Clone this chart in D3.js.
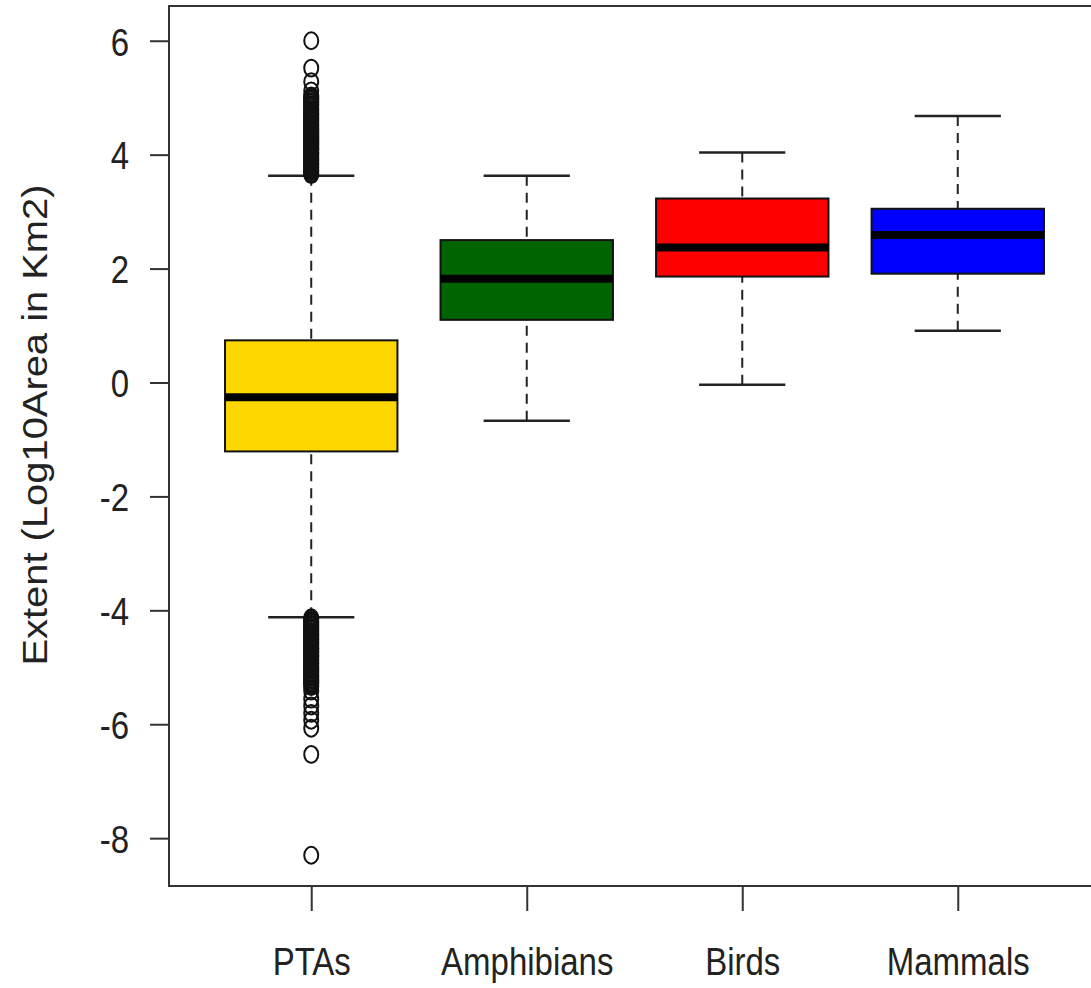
<!DOCTYPE html>
<html>
<head>
<meta charset="utf-8">
<script src="https://cdn.jsdelivr.net/npm/d3@7"></script>
<style>
  html, body { margin: 0; padding: 0; background: #fff; }
  svg { display: block; font-family: "Liberation Sans", Arial, sans-serif; }
</style>
</head>
<body>
<div class="canvas"></div>
<script>
// values
const categories = ['PTAs', 'Amphibians', 'Birds', 'Mammals'];
const lowerWhisker = [-4.12, -0.67, -0.04, 0.91];
const q1 = [-1.21, 1.10, 1.86, 1.91];
const medians = [-0.26, 1.82, 2.37, 2.59];
const q3 = [0.74, 2.50, 3.23, 3.05];
const upperWhisker = [3.63, 3.63, 4.04, 4.68];
const boxColors = ['#FFD700', '#006400', '#FF0000', '#0000FF'];

// PTAs outliers (the upper and lower bands are very dense)
const ptaUpperOutliers = [3.65, 3.67, 3.70, 3.72, 3.74, 3.77, 3.79, 3.82, 3.84, 3.86,
    3.89, 3.91, 3.93, 3.96, 3.98, 4.01, 4.03, 4.05, 4.08, 4.10, 4.12, 4.15, 4.17, 4.20,
    4.22, 4.24, 4.27, 4.29, 4.31, 4.34, 4.36, 4.39, 4.41, 4.43, 4.46, 4.48, 4.51, 4.53,
    4.55, 4.58, 4.60, 4.62, 4.65, 4.67, 4.70, 4.72, 4.74, 4.77, 4.79, 4.82, 4.86, 4.88,
    4.91, 4.93, 4.96, 4.98, 5.01, 5.03, 5.12, 5.28, 5.52, 6.00];
const ptaLowerOutliers = [-4.13, -4.15, -4.18, -4.20, -4.22, -4.25, -4.27, -4.30, -4.32,
    -4.34, -4.37, -4.39, -4.42, -4.44, -4.46, -4.49, -4.51, -4.54, -4.56, -4.58, -4.61,
    -4.63, -4.66, -4.68, -4.70, -4.73, -4.75, -4.78, -4.80, -4.82, -4.85, -4.87, -4.90,
    -4.92, -4.94, -4.97, -4.99, -5.02, -5.04, -5.06, -5.09, -5.11, -5.14, -5.16, -5.18,
    -5.21, -5.23, -5.26, -5.28, -5.31, -5.34, -5.42, -5.56, -5.68, -5.81, -5.93, -6.07,
    -6.53, -8.30];

const yTicks = [-8, -6, -4, -2, 0, 2, 4, 6];
const yLabel = 'Extent (Log10Area in Km2)';

const boxes = categories.map((c, i) => ({
    name: c,
    pos: i + 1,
    lo: lowerWhisker[i],
    q1: q1[i],
    med: medians[i],
    q3: q3[i],
    hi: upperWhisker[i],
    color: boxColors[i]
}));
const outliers = ptaUpperOutliers.concat(ptaLowerOutliers).map(v => ({ pos: 1, value: v }));

const width = 1091, height = 988;
const ink = '#222';
const stretch = 1.2; // the reference is stretched vertically

const svg = d3.select('.canvas')
    .append('svg')
    .attr('width', width)
    .attr('height', height);

const x = d3.scaleLinear()
    .domain([0.34, 4.66])
    .range([169, 1100]);

const y = d3.scaleLinear()
    .domain([-8.84, 6.61])
    .range([886, 6]);

const boxW = (x(2) - x(1)) * 0.8;
const capW = boxW / 2;

// whiskers (dashed)
const whiskers = svg.append('g');
boxes.forEach(d => {
    whiskers.append('line')
        .attr('x1', x(d.pos)).attr('x2', x(d.pos))
        .attr('y1', y(d.hi)).attr('y2', y(d.q3))
        .attr('stroke', ink).attr('stroke-width', 2)
        .attr('stroke-dasharray', '10,7');
    whiskers.append('line')
        .attr('x1', x(d.pos)).attr('x2', x(d.pos))
        .attr('y1', y(d.lo)).attr('y2', y(d.q1))
        .attr('stroke', ink).attr('stroke-width', 2)
        .attr('stroke-dasharray', '10,7');
    [d.hi, d.lo].forEach(v => {
        whiskers.append('line')
            .attr('x1', x(d.pos) - capW / 2).attr('x2', x(d.pos) + capW / 2)
            .attr('y1', y(v)).attr('y2', y(v))
            .attr('stroke', ink).attr('stroke-width', 2.5);
    });
});

// boxes
svg.append('g').selectAll('rect')
    .data(boxes)
    .enter()
    .append('rect')
    .attr('x', d => x(d.pos) - boxW / 2)
    .attr('width', boxW)
    .attr('y', d => y(d.q3))
    .attr('height', d => y(d.q1) - y(d.q3))
    .attr('fill', d => d.color)
    .attr('stroke', '#111')
    .attr('stroke-width', 2);

// medians
svg.append('g').selectAll('line')
    .data(boxes)
    .enter()
    .append('line')
    .attr('x1', d => x(d.pos) - boxW / 2)
    .attr('x2', d => x(d.pos) + boxW / 2)
    .attr('y1', d => y(d.med))
    .attr('y2', d => y(d.med))
    .attr('stroke', '#000')
    .attr('stroke-width', 8);

// outliers, open circles
svg.append('g').selectAll('ellipse')
    .data(outliers)
    .enter()
    .append('ellipse')
    .attr('cx', d => x(d.pos))
    .attr('cy', d => y(d.value))
    .attr('rx', 7)
    .attr('ry', 7 * stretch)
    .attr('fill', 'none')
    .attr('stroke', '#111')
    .attr('stroke-width', 2);

// frame
svg.append('rect')
    .attr('x', x.range()[0])
    .attr('y', y.range()[1])
    .attr('width', x.range()[1] - x.range()[0])
    .attr('height', y.range()[0] - y.range()[1])
    .attr('fill', 'none')
    .attr('stroke', '#333')
    .attr('stroke-width', 2);

// y axis (plain hyphen as minus, like the reference)
const yAxis = svg.append('g')
    .attr('transform', `translate(${x.range()[0]},0)`)
    .call(d3.axisLeft(y).tickValues(yTicks).tickSize(19).tickPadding(21).tickFormat(d => String(d)));
yAxis.select('.domain').remove();
yAxis.selectAll('line').attr('stroke', '#333').attr('stroke-width', 2);
yAxis.selectAll('text')
    .attr('fill', ink)
    .style('font-size', '33px')
    .attr('dy', '0.36em')
    .attr('transform', `scale(1,${stretch})`);

// x axis
const xAxis = svg.append('g')
    .attr('transform', `translate(0,${y.range()[0]})`)
    .call(d3.axisBottom(x).tickValues(boxes.map(d => d.pos)).tickSize(25)
        .tickFormat(d => categories[d - 1]));
xAxis.select('.domain').remove();
xAxis.selectAll('line').attr('stroke', '#333').attr('stroke-width', 2);
xAxis.selectAll('text')
    .attr('fill', ink)
    .style('font-size', '33px')
    .attr('y', 89 / stretch)
    .attr('dy', 0)
    .attr('transform', `scale(1,${stretch})`);

// y axis title
svg.append('text')
    .attr('transform', 'translate(47,425) rotate(-90) scale(1.14,1)')
    .attr('text-anchor', 'middle')
    .attr('fill', ink)
    .style('font-size', '35px')
    .text(yLabel);
</script>
</body>
</html>
